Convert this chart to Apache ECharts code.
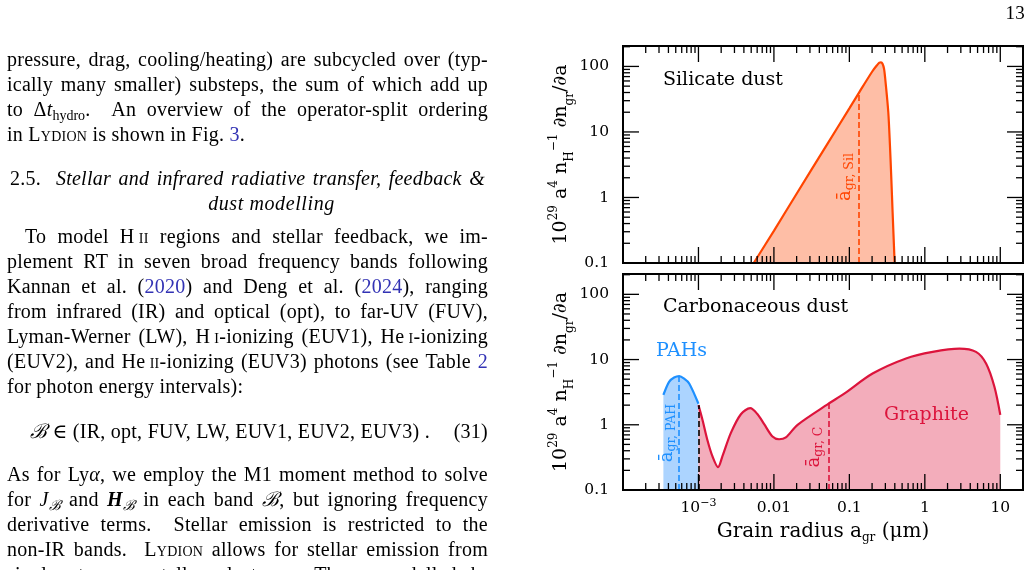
<!DOCTYPE html>
<html>
<head>
<meta charset="utf-8">
<script src="https://cdn.jsdelivr.net/npm/echarts@6.0.0/dist/echarts.min.js"></script>
<style>
  html, body { margin: 0; padding: 0; background: #fff; }
  #chart { position: absolute; left: 0; top: 0; width: 1034px; height: 570px; }
  #page { position: absolute; left: 0; top: 0; width: 1034px; height: 570px; overflow: hidden;
          font-family: "Liberation Serif", "DejaVu Serif", serif; font-size: 20px; color: #000;
          letter-spacing: 0.25px; pointer-events: none; }
  .ln { position: absolute; left: 7px; width: 481px; height: 25px; line-height: 25px;
        text-align: justify; text-align-last: justify; white-space: nowrap; }
  .ln.last { text-align-last: left; }
  .sc { font-variant: small-caps; }
  .lk { color: #3232b4; }
  sub { font-size: 0.7em; vertical-align: -0.3em; line-height: 0; letter-spacing: 0; }
  #pnum { position: absolute; right: 9px; top: 2px; font-size: 19px; }
</style>
</head>
<body>
<div id="chart"></div>
<div id="page">
  <div id="pnum">13</div>
  <div class="ln" style="top:47px">pressure, drag, cooling/heating) are subcycled over (typ-</div>
  <div class="ln" style="top:72px">ically many smaller) substeps, the sum of which add up</div>
  <div class="ln" style="top:97px">to Δ<i>t</i><sub>hydro</sub>. &nbsp;An overview of the operator-split ordering</div>
  <div class="ln last" style="top:122px">in <span class="sc">Lydion</span> is shown in Fig. <span class="lk">3</span>.</div>

  <div class="ln" style="top:166px;left:10px;width:475px">2.5. &nbsp;<i>Stellar and infrared radiative transfer, feedback &amp;</i></div>
  <div class="ln last" style="top:191px;left:55px;width:433px;text-align:center;text-align-last:center;letter-spacing:0.6px"><i>dust modelling</i></div>

  <div class="ln" style="top:224px;left:25px;width:463px">To model H<span class="sc">&#8201;ii</span> regions and stellar feedback, we im-</div>
  <div class="ln" style="top:249px">plement RT in seven broad frequency bands following</div>
  <div class="ln" style="top:274px">Kannan et al. (<span class="lk">2020</span>) and Deng et al. (<span class="lk">2024</span>), ranging</div>
  <div class="ln" style="top:299px">from infrared (IR) and optical (opt), to far-UV (FUV),</div>
  <div class="ln" style="top:324px">Lyman-Werner (LW), H<span class="sc">&#8201;i</span>-ionizing (EUV1), He<span class="sc">&#8201;i</span>-ionizing</div>
  <div class="ln" style="top:349px">(EUV2), and He<span class="sc">&#8201;ii</span>-ionizing (EUV3) photons (see Table <span class="lk">2</span></div>
  <div class="ln last" style="top:374px">for photon energy intervals):</div>

  <div class="ln" style="top:419px;left:30px;width:400px"><i>ℬ</i> ∈ (IR, opt, FUV, LW, EUV1, EUV2, EUV3) .</div>
  <div class="ln last" style="top:419px;left:430px;width:58px;text-align:right;text-align-last:right">(31)</div>

  <div class="ln" style="top:462px">As for Ly<i>α</i>, we employ the M1 moment method to solve</div>
  <div class="ln" style="top:487px">for <i>J</i><sub><i>ℬ</i></sub> and <b><i>H</i></b><sub><i>ℬ</i></sub> in each band <i>ℬ</i>, but ignoring frequency</div>
  <div class="ln" style="top:512px">derivative terms. &nbsp;Stellar emission is restricted to the</div>
  <div class="ln" style="top:537px">non-IR bands. &nbsp;<span class="sc">Lydion</span> allows for stellar emission from</div>
  <div class="ln" style="top:562px">single stars or stellar clusters. &nbsp;The unmodelled h-</div>
</div>
<script>
"use strict";

// grain size distributions (a in micron, y = 1e29 a^4 n_H^-1 dn/da)
const silA = [0.0054, 0.01, 0.02, 0.05, 0.1, 0.135, 0.2, 0.232, 0.25, 0.262, 0.275, 0.288, 0.299, 0.328, 0.345, 0.36, 0.374, 0.398];
const silN = [0.1, 0.31, 1.14, 6.3, 22.9, 40.2, 83, 104, 114, 115, 110, 92, 64, 20, 6.2, 1.9, 0.6, 0.1];

const pahA = [3.43e-4, 4.08e-4, 4.76e-4, 5.55e-4, 6.46e-4, 7.54e-4, 1e-3];
const pahN = [2.87, 4.56, 5.3, 5.57, 5.1, 4.3, 2.1];

const graA = [1e-3, 1.13e-3, 1.31e-3, 1.53e-3, 1.82e-3, 2.08e-3, 2.69e-3, 3.65e-3, 4.85e-3, 6.07e-3, 7.43e-3, 9.57e-3,
              0.0117, 0.0144, 0.0206, 0.0525, 0.0855, 0.203, 0.563, 1.27, 2.87, 4.77, 6.48, 8.36, 10];
const graN = [2.0, 1.19, 0.59, 0.33, 0.224, 0.33, 0.75, 1.45, 1.8, 1.45, 1.02, 0.66,
              0.6, 0.64, 1.0, 2.09, 3.0, 6.1, 10.4, 13.1, 14.7, 13.1, 8.7, 3.83, 1.42];

// mean grain radii (dashed lines) and PAH / graphite boundary
const meanSil = [0.135, 40.2];
const meanPah = [5.55e-4, 5.57];
const meanC = [0.0525, 2.09];
const pahEdge = [1e-3, 2.0];

// axes
const xRange = [1e-4, 20];
const yRange = [0.1, 205];
const xDecades = [1e-4, 1e-3, 0.01, 0.1, 1, 10];
const xTickLabels = ["", "10{sup|−3}", "0.01", "0.1", "1", "10"];
const yDecades = [0.1, 1, 10, 100];
const yTickLabels = ["0.1", "1", "10", "100"];
const minorSteps = [2, 3, 4, 5, 6, 7, 8, 9];

const FONT = "DejaVu Serif";
const SIL = "#ff4500", SIL_FILL = "#febea6";
const PAH = "#1e90ff", PAH_FILL = "#acd4ff";
const GRA = "#dc143c", GRA_FILL = "#f3adbb";

const chart = echarts.init(document.getElementById("chart"));

function pairs(xs, ys) { return xs.map((v, i) => [v, ys[i]]); }

function ticks(decades, lo, hi) {
	let out = [];
	decades.forEach((d) => {
		out.push([d, 16]);
		minorSteps.forEach((m) => out.push([d * m, 7]));
	});
	return out.filter((t) => t[0] > lo * 1.001 && t[0] < hi * 0.999);
}

function labelFor(decades, labels) {
	return (v) => {
		for (let i = 0; i < decades.length; i++) {
			if (Math.abs(Math.log10(v) - Math.log10(decades[i])) < 1e-6) return labels[i];
		}
		return "";
	};
}

const xTicks = ticks(xDecades, xRange[0], xRange[1]);
const yTicks = ticks(yDecades.concat([1000]), yRange[0], yRange[1]);

function xTickSeries(g) {
	return {
		type: "custom", xAxisIndex: g, yAxisIndex: g, silent: true, z: 5, clip: false,
		data: xTicks.map((t) => [t[0], yRange[0], t[1]]),
		renderItem: (params, api) => {
			const cs = params.coordSys;
			const px = api.coord([api.value(0), yRange[0]])[0];
			const len = api.value(2);
			const st = {stroke: "#000", lineWidth: 1.3};
			return {type: "group", children: [
				{type: "line", shape: {x1: px, y1: cs.y + cs.height, x2: px, y2: cs.y + cs.height - len}, style: st},
				{type: "line", shape: {x1: px, y1: cs.y, x2: px, y2: cs.y + len}, style: st}
			]};
		}
	};
}

function yTickSeries(g) {
	return {
		type: "custom", xAxisIndex: g, yAxisIndex: g, silent: true, z: 5, clip: false,
		data: yTicks.map((t) => [xRange[0], t[0], t[1]]),
		renderItem: (params, api) => {
			const cs = params.coordSys;
			const py = api.coord([xRange[0], api.value(1)])[1];
			const len = api.value(2);
			const st = {stroke: "#000", lineWidth: 1.3};
			return {type: "group", children: [
				{type: "line", shape: {x1: cs.x, y1: py, x2: cs.x + len, y2: py}, style: st},
				{type: "line", shape: {x1: cs.x + cs.width, y1: py, x2: cs.x + cs.width - len, y2: py}, style: st}
			]};
		}
	};
}

function frameSeries(g) {
	return {
		type: "custom", xAxisIndex: g, yAxisIndex: g, silent: true, z: 6, clip: false,
		data: [[xRange[0], yRange[0]]],
		renderItem: (params) => {
			const cs = params.coordSys;
			return {type: "rect", shape: {x: cs.x, y: cs.y, width: cs.width, height: cs.height},
				style: {fill: "none", stroke: "#000", lineWidth: 2}};
		}
	};
}

function dash(pt, color) {
	return {
		silent: true, symbol: ["none", "none"], label: {show: false},
		lineStyle: {type: [6, 3], color: color, width: 1.6},
		data: [[{coord: [pt[0], yRange[0]]}, {coord: [pt[0], pt[1]]}]]
	};
}

function curve(g, xs, ys, color, fill, mark) {
	return {
		type: "line", xAxisIndex: g, yAxisIndex: g, data: pairs(xs, ys),
		showSymbol: false, smooth: 0.3, z: 2,
		lineStyle: {color: color, width: 2.2},
		itemStyle: {color: color},
		areaStyle: {color: fill, opacity: 1, origin: "start"},
		markLine: mark
	};
}

const yName = "10{sup|29} a{sup|4} n{sub|H}{sup|−1} ∂n{sub|gr}/∂a";
const supSub = {
	sup: {fontSize: 12, lineHeight: 13, verticalAlign: "top", fontFamily: FONT, color: "#000"},
	sub: {fontSize: 12, lineHeight: 13, verticalAlign: "bottom", fontFamily: FONT, color: "#000"}
};

function yAxis(g) {
	return {
		type: "log", logBase: 10, gridIndex: g, min: yRange[0], max: yRange[1],
		axisLine: {show: false}, axisTick: {show: false}, splitLine: {show: false},
		axisLabel: {fontFamily: FONT, fontSize: 15.5, color: "#000", margin: 14,
			formatter: labelFor(yDecades, yTickLabels)},
		name: yName, nameLocation: "middle", nameRotate: 90, nameGap: 40,
		nameTextStyle: {fontFamily: FONT, fontSize: 19, lineHeight: 28, color: "#000", rich: supSub}
	};
}

function xAxis(g, labels) {
	let ax = {
		type: "log", logBase: 10, gridIndex: g, min: xRange[0], max: xRange[1],
		axisLine: {show: false}, axisTick: {show: false}, splitLine: {show: false},
		axisLabel: {show: false}
	};
	if (labels) {
		ax.axisLabel = {show: true, fontFamily: FONT, fontSize: 15.5, color: "#000", margin: 8, lineHeight: 20,
			formatter: labelFor(xDecades, xTickLabels), rich: {sup: {fontSize: 11, lineHeight: 11, verticalAlign: "top", fontFamily: FONT, color: "#000"}}};
		ax.name = "Grain radius a{sub|gr} (μm)";
		ax.nameLocation = "middle";
		ax.nameGap = 30;
		ax.nameTextStyle = {fontFamily: FONT, fontSize: 20, lineHeight: 24, color: "#000", rich: supSub};
	}
	return ax;
}

function txt(x, y, text, color, size, rot, rich) {
	return {
		type: "text", x: x, y: y, rotation: rot || 0, silent: true, z: 10,
		style: {text: text, fill: color, font: size + "px '" + FONT + "'",
			align: rot ? "center" : "left", verticalAlign: "middle", rich: rich}
	};
}

function abarRich(color) {
	return {
		a: {fontSize: 18, fill: color, fontFamily: FONT, lineHeight: 22},
		s: {fontSize: 12.5, fill: color, fontFamily: FONT, lineHeight: 14, verticalAlign: "bottom"}
	};
}

chart.setOption({
	animation: false,
	grid: [
		{left: 623, top: 46, width: 400, height: 217},
		{left: 623, top: 274, width: 400, height: 216}
	],
	xAxis: [xAxis(0, false), xAxis(1, true)],
	yAxis: [yAxis(0), yAxis(1)],
	series: [
		curve(0, silA, silN, SIL, SIL_FILL, dash(meanSil, SIL)),
		curve(1, pahA, pahN, PAH, PAH_FILL, {
			silent: true, symbol: ["none", "none"], label: {show: false},
			data: [
				[{coord: [meanPah[0], yRange[0]], lineStyle: {type: [6, 3], color: PAH, width: 1.6}}, {coord: [meanPah[0], meanPah[1]]}],
				[{coord: [pahEdge[0], yRange[0]], lineStyle: {type: [6, 3], color: "#000", width: 1.6}}, {coord: [pahEdge[0], pahEdge[1]]}]
			]
		}),
		curve(1, graA, graN, GRA, GRA_FILL, dash(meanC, GRA)),
		xTickSeries(0), yTickSeries(0), frameSeries(0),
		xTickSeries(1), yTickSeries(1), frameSeries(1)
	],
	graphic: [
		txt(663, 80, "Silicate dust", "#000", 19),
		txt(663, 307, "Carbonaceous dust", "#000", 19),
		txt(656, 351, "PAHs", PAH, 19),
		txt(884, 415, "Graphite", GRA, 19),
		txt(845, 177, "{a|ā}{s|gr, Sil}", SIL, 18, Math.PI / 2, abarRich(SIL)),
		txt(667, 433, "{a|ā}{s|gr, PAH}", PAH, 18, Math.PI / 2, abarRich(PAH)),
		txt(814, 447, "{a|ā}{s|gr, C}", GRA, 18, Math.PI / 2, abarRich(GRA))
	]
});
</script>
</body>
</html>
